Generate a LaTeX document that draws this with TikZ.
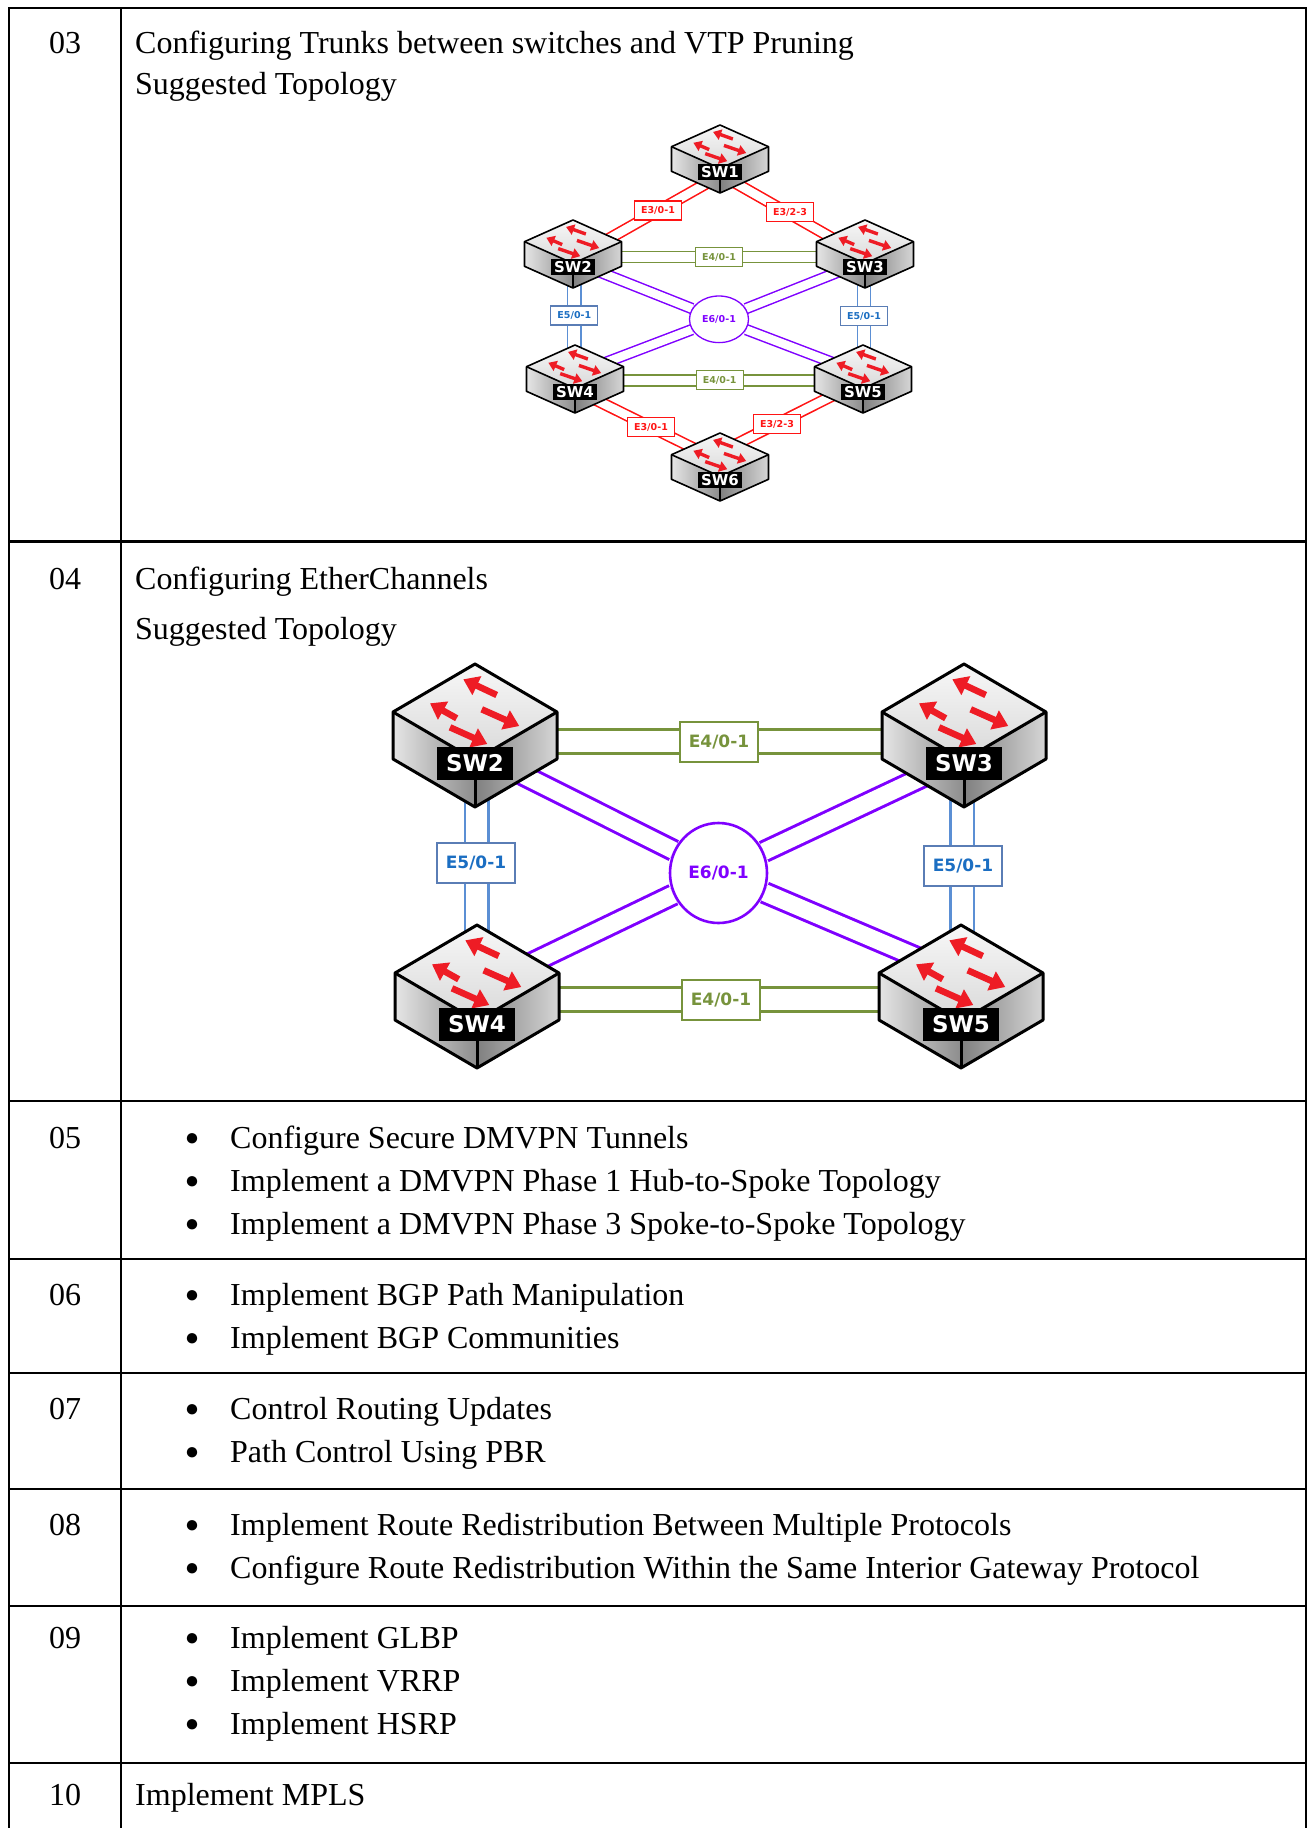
\documentclass[tikz,border=0pt]{standalone}
\usepackage{fontspec}
\setmainfont{Liberation Serif}
\newfontfamily\lblfont{DejaVu Sans}
\usetikzlibrary{arrows.meta,shapes.geometric}
\pgfdeclarelayer{back}
\pgfdeclarelayer{bg}
\pgfsetlayers{back,bg,main}
\definecolor{linkred}{HTML}{FF1414}
\definecolor{linkgreen}{HTML}{77933C}
\definecolor{linkblue}{HTML}{5B8FD4}
\definecolor{boxblue}{HTML}{5A7DB5}
\definecolor{textblue}{HTML}{1B6EC2}
\definecolor{linkpurple}{HTML}{7F00FF}
\definecolor{arrred}{HTML}{EE1C25}

% #1 cx, #2 top y, #3 half width, #4 top half height, #5 side height, #6 label, #7 name, #8 size set
\newcommand\swicon[8]{%
 \pgfmathsetmacro\sxl{#1-#3}%
 \pgfmathsetmacro\sxr{#1+#3}%
 \pgfmathsetmacro\sym{#2+#4}%
 \pgfmathsetmacro\syf{#2+2*#4}%
 \pgfmathsetmacro\syb{#2+2*#4+#5}%
 \pgfmathsetmacro\syl{#2+#4+#5}%
 \pgfmathsetmacro\sylab{#2+2*#4+3.5}%
 \shade[left color=black!10, right color=black!45] (\sxl,\sym) -- (#1,\syf) -- (#1,\syb) -- (\sxl,\syl) -- cycle;
 \shade[left color=black!50, right color=black!16] (\sxr,\sym) -- (#1,\syf) -- (#1,\syb) -- (\sxr,\syl) -- cycle;
 \shade[top color=black!3, bottom color=black!15] (#1,#2) -- (\sxr,\sym) -- (#1,\syf) -- (\sxl,\sym) -- cycle;
 \foreach \ua/\va/\ub/\vb in {0.265/0.646/-0.143/0.319, -0.223/1.131/-0.549/0.819, 0.082/0.944/0.540/1.292, -0.305/1.319/0.150/1.667}
   \draw[swarr#8] ({#1+\ua*#3},{#2+\va*#4}) -- ({#1+\ub*#3},{#2+\vb*#4});
 \draw[swout#8] (#1,#2) -- (\sxr,\sym) -- (\sxr,\syl) -- (#1,\syb) -- (\sxl,\syl) -- (\sxl,\sym) -- cycle;
 \draw[swout#8] (\sxl,\sym) -- (#1,\syf) -- (\sxr,\sym);
 \draw[swout#8] (#1,\syf) -- (#1,\syb);
 \node[swlab#8] (#7) at (#1,\sylab) {#6};
}

\begin{document}
\begin{tikzpicture}[x=1pt,y=-1pt,
  tab/.style={line width=2.8pt, black, line join=miter},
  txt/.style={anchor=base west, inner sep=0pt, font=\fontsize{32}{38}\selectfont},
  numtxt/.style={anchor=base, inner sep=0pt, font=\fontsize{32}{38}\selectfont},
  bul/.style={anchor=center, inner sep=0pt, font=\fontsize{24}{24}\selectfont},
  swoutA/.style={line width=1.6pt, line join=round, black},
  swoutB/.style={line width=3pt, line join=round, black},
  swarrA/.style={arrred, line width=3.4pt, -{Triangle[width=10.5pt,length=8pt]}},
  swarrB/.style={arrred, line width=6.5pt, -{Triangle[width=20pt,length=15pt]}},
  swlabA/.style={fill=black, text=white, inner sep=0pt, minimum width=44pt, minimum height=16pt, font=\lblfont\bfseries\fontsize{15}{15}\selectfont},
  swlabB/.style={fill=black, text=white, inner sep=0pt, minimum width=76pt, minimum height=33pt, font=\lblfont\bfseries\fontsize{23}{23}\selectfont},
  lnkA/.style={draw, fill=white, inner sep=0pt, minimum width=47pt, minimum height=19pt, line width=1.1pt, font=\lblfont\bfseries\fontsize{9.5}{9.5}\selectfont},
  lnkB/.style={draw, fill=white, inner sep=0pt, minimum width=78pt, minimum height=40pt, line width=2.4pt, font=\lblfont\bfseries\fontsize{17}{17}\selectfont},
  redA/.style={lnkA, draw=linkred, text=linkred},
  greenA/.style={lnkA, draw=linkgreen, text=linkgreen},
  blueA/.style={lnkA, draw=boxblue, text=textblue},
  greenB/.style={lnkB, draw=linkgreen, text=linkgreen},
  blueB/.style={lnkB, draw=boxblue, text=textblue},
  hubA/.style={ellipse, draw=linkpurple, fill=white, text=linkpurple, inner sep=0pt, minimum width=59pt, minimum height=46.6pt, line width=1.3pt, font=\lblfont\bfseries\fontsize{9.5}{9.5}\selectfont},
  hubB/.style={ellipse, draw=linkpurple, fill=white, text=linkpurple, inner sep=0pt, minimum width=97pt, minimum height=100pt, line width=2.6pt, font=\lblfont\bfseries\fontsize{17}{17}\selectfont},
  dred/.style={linkred, line width=1.6pt, double=white, double distance=8.6pt},
  dgreenA/.style={linkgreen, line width=1.5pt, double=white, double distance=9.5pt},
  dblueA/.style={linkblue, line width=1.3pt, double=white, double distance=12pt},
  dpurpA/.style={linkpurple, line width=1.5pt, double=white, double distance=8.5pt},
  dgreenB/.style={linkgreen, line width=3pt, double=white, double distance=21pt},
  dblueB/.style={linkblue, line width=2.3pt, double=white, double distance=21.4pt},
  dpurpB/.style={linkpurple, line width=3pt, double=white, double distance=17pt}
]
\useasboundingbox (0,0) rectangle (1314,1828);
\begin{pgfonlayer}{back}
\fill[white] (0,0) rectangle (1314,1828);
\end{pgfonlayer}

% ---------------- table ----------------
\draw[tab] (9,1835) -- (9,8) -- (1306,8) -- (1306,1835);
\draw[tab] (121,8) -- (121,1835);
\foreach \yy in {541.5,1101,1259,1373,1489,1606,1763}
  \draw[tab] (9,\yy) -- (1306,\yy);

% ---------------- texts ----------------
\node[numtxt] (n03) at (65,53) {03};
\node[txt] (t03a) at (135,53) {Configuring Trunks between switches and VTP Pruning};
\node[txt] (t03b) at (135,95) {Suggested Topology};
\node[numtxt] (n04) at (65,589) {04};
\node[txt] (t04a) at (135,589) {Configuring EtherChannels};
\node[txt] (t04b) at (135,639) {Suggested Topology};

\node[numtxt] (n05) at (65,1148) {05};
\node[bul] (b05a) at (192,1140) {●};
\node[txt] (t05a) at (230,1148) {Configure Secure DMVPN Tunnels};
\node[bul] (b05b) at (192,1183) {●};
\node[txt] (t05b) at (230,1191) {Implement a DMVPN Phase 1 Hub-to-Spoke Topology};
\node[bul] (b05c) at (192,1226) {●};
\node[txt] (t05c) at (230,1234) {Implement a DMVPN Phase 3 Spoke-to-Spoke Topology};

\node[numtxt] (n06) at (65,1305) {06};
\node[bul] (b06a) at (192,1297) {●};
\node[txt] (t06a) at (230,1305) {Implement BGP Path Manipulation};
\node[bul] (b06b) at (192,1340) {●};
\node[txt] (t06b) at (230,1348) {Implement BGP Communities};

\node[numtxt] (n07) at (65,1419) {07};
\node[bul] (b07a) at (192,1411) {●};
\node[txt] (t07a) at (230,1419) {Control Routing Updates};
\node[bul] (b07b) at (192,1454) {●};
\node[txt] (t07b) at (230,1462) {Path Control Using PBR};

\node[numtxt] (n08) at (65,1535) {08};
\node[bul] (b08a) at (192,1527) {●};
\node[txt] (t08a) at (230,1535) {Implement Route Redistribution Between Multiple Protocols};
\node[bul] (b08b) at (192,1570) {●};
\node[txt] (t08b) at (230,1578) {Configure Route Redistribution Within the Same Interior Gateway Protocol};

\node[numtxt] (n09) at (65,1648) {09};
\node[bul] (b09a) at (192,1640) {●};
\node[txt] (t09a) at (230,1648) {Implement GLBP};
\node[bul] (b09b) at (192,1683) {●};
\node[txt] (t09b) at (230,1691) {Implement VRRP};
\node[bul] (b09c) at (192,1726) {●};
\node[txt] (t09c) at (230,1734) {Implement HSRP};

\node[numtxt] (n10) at (65,1805) {10};
\node[txt] (t10a) at (135,1805) {Implement MPLS};

% ---------------- diagram 1 ----------------
\swicon{720}{125}{48.5}{21.7}{24.6}{SW1}{aSWone}{A}
\swicon{573}{220}{48.5}{21.7}{24.6}{SW2}{aSWtwo}{A}
\swicon{865}{220}{48.5}{21.7}{24.6}{SW3}{aSWthree}{A}
\swicon{575}{345}{48.5}{21.7}{24.6}{SW4}{aSWfour}{A}
\swicon{863}{345}{48.5}{21.7}{24.6}{SW5}{aSWfive}{A}
\swicon{720}{433}{48.5}{21.7}{24.6}{SW6}{aSWsix}{A}

\node[redA] (aL12) at (658,210.5) {E3/0-1};
\node[redA] (aL13) at (790,212) {E3/2-3};
\node[greenA] (aL23) at (719,257.2) {E4/0-1};
\node[blueA] (aL24) at (574.3,315.5) {E5/0-1};
\node[blueA] (aL35) at (864,316) {E5/0-1};
\node[hubA] (aHub) at (719,319.3) {E6/0-1};
\node[greenA] (aL45) at (719.7,380.3) {E4/0-1};
\node[redA] (aL46) at (651,427) {E3/0-1};
\node[redA] (aL56) at (777,424) {E3/2-3};

\coordinate (a1p2) at (712.4,180.1);
\coordinate (a2p1) at (600.6,243.4);
\coordinate (a1p3) at (728.6,179.1);
\coordinate (a3p1) at (842.4,243.9);
\coordinate (a2p3) at (610,257.2);
\coordinate (a3p2) at (828,257.2);
\coordinate (a2p4) at (574.3,275);
\coordinate (a4p2) at (574.3,358);
\coordinate (a3p5) at (864,275);
\coordinate (a5p3) at (864,358);
\coordinate (a4p5) at (612,380.3);
\coordinate (a5p4) at (826,380.3);
\coordinate (a4p6) at (585.2,394.7);
\coordinate (a6p4) at (699.8,451.3);
\coordinate (a5p6) at (839.7,392.1);
\coordinate (a6p5) at (730.3,447.1);
\coordinate (a2h) at (592.7,269.2);
\coordinate (a3h) at (845.3,269.2);
\coordinate (a4h) at (599,365);
\coordinate (a5h) at (839,365);

% ---------------- diagram 2 ----------------
\swicon{475}{664}{82}{48}{47}{SW2}{bSWtwo}{B}
\swicon{964}{664}{82}{48}{47}{SW3}{bSWthree}{B}
\swicon{477}{925}{82}{48}{47}{SW4}{bSWfour}{B}
\swicon{961}{925}{82}{48}{47}{SW5}{bSWfive}{B}

\node[greenB] (bL23) at (719,742) {E4/0-1};
\node[greenB] (bL45) at (721,1000) {E4/0-1};
\node[blueB] (bL24) at (476,863) {E5/0-1};
\node[blueB] (bL35) at (963,866) {E5/0-1};
\node[hubB] (bHub) at (718.5,873) {E6/0-1};

\coordinate (b2p3) at (545,741);
\coordinate (b3p2) at (894,741);
\coordinate (b4p5) at (548,999.5);
\coordinate (b5p4) at (891,999.5);
\coordinate (b2p4) at (476.5,790);
\coordinate (b4p2) at (476.5,945);
\coordinate (b3p5) at (962.3,790);
\coordinate (b5p3) at (962.3,945);
\coordinate (b2h) at (513.4,770.2);
\coordinate (b3h) at (929.6,773.7);
\coordinate (b4h) at (526.5,965.4);
\coordinate (b5h) at (922.6,959.8);

% ---------------- connectors (behind) ----------------
\begin{pgfonlayer}{bg}
 \draw[dred] (a1p2) -- (a2p1);
 \draw[dred] (a1p3) -- (a3p1);
 \draw[dgreenA] (a2p3) -- (a3p2);
 \draw[dblueA] (a2p4) -- (a4p2);
 \draw[dblueA] (a3p5) -- (a5p3);
 \draw[dgreenA] (a4p5) -- (a5p4);
 \draw[dred] (a4p6) -- (a6p4);
 \draw[dred] (a5p6) -- (a6p5);
 \draw[dpurpA] (a2h) -- (aHub);
 \draw[dpurpA] (a3h) -- (aHub);
 \draw[dpurpA] (a4h) -- (aHub);
 \draw[dpurpA] (a5h) -- (aHub);

 \draw[dgreenB] (b2p3) -- (b3p2);
 \draw[dgreenB] (b4p5) -- (b5p4);
 \draw[dblueB] (b2p4) -- (b4p2);
 \draw[dblueB] (b3p5) -- (b5p3);
 \draw[dpurpB] (b2h) -- (bHub);
 \draw[dpurpB] (b3h) -- (bHub);
 \draw[dpurpB] (b4h) -- (bHub);
 \draw[dpurpB] (b5h) -- (bHub);
\end{pgfonlayer}
\end{tikzpicture}
\end{document}
